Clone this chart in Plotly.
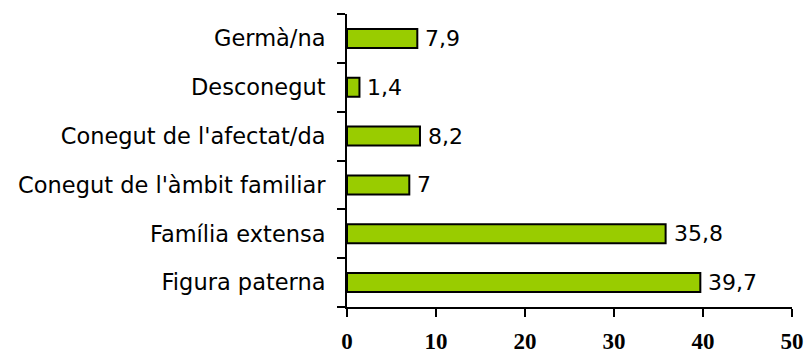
import plotly.graph_objects as go

# Categories listed bottom-to-top as they appear on the vertical axis
categories = [
    "Figura paterna",
    "Família extensa",
    "Conegut de l'àmbit familiar",
    "Conegut de l'afectat/da",
    "Desconegut",
    "Germà/na",
]
values = [39.7, 35.8, 7, 8.2, 1.4, 7.9]
x_ticks = [0, 10, 20, 30, 40, 50]

labels = [f"{v:g}".replace(".", ",") for v in values]

fig = go.Figure(
    go.Bar(
        x=values,
        y=categories,
        orientation="h",
        width=0.39,
        marker=dict(color="#99CC00", line=dict(color="black", width=2)),
        hoverinfo="skip",
    )
)

for v, c, t in zip(values, categories, labels):
    fig.add_annotation(
        x=v, y=c, text=t, showarrow=False, xanchor="left", yanchor="middle",
        xshift=6, font=dict(family="DejaVu Sans", size=22, color="black"),
    )

fig.update_layout(
    width=809,
    height=358,
    margin=dict(l=347, r=17, t=14, b=51, autoexpand=False),
    paper_bgcolor="white",
    plot_bgcolor="white",
    showlegend=False,
    xaxis=dict(
        range=[0, 50],
        automargin=False,
        tickvals=x_ticks,
        ticktext=[str(t) for t in x_ticks],
        ticks="outside",
        ticklen=8,
        tickwidth=2,
        tickcolor="black",
        showline=True,
        linecolor="black",
        linewidth=2,
        showgrid=False,
        zeroline=False,
        ticklabelstandoff=4,
        tickfont=dict(family="Liberation Serif", size=23, color="black", weight="bold"),
    ),
    yaxis=dict(
        type="category",
        automargin=False,
        categoryorder="array",
        categoryarray=categories,
        range=[-0.5, 5.5],
        tickson="boundaries",
        ticks="outside",
        ticklen=8,
        tickwidth=2,
        tickcolor="black",
        showline=True,
        linecolor="black",
        linewidth=2,
        showgrid=False,
        zeroline=False,
        ticklabelstandoff=15,
        tickfont=dict(family="DejaVu Sans", size=22.5, color="black"),
    ),
)

fig.write_html("out.html")
